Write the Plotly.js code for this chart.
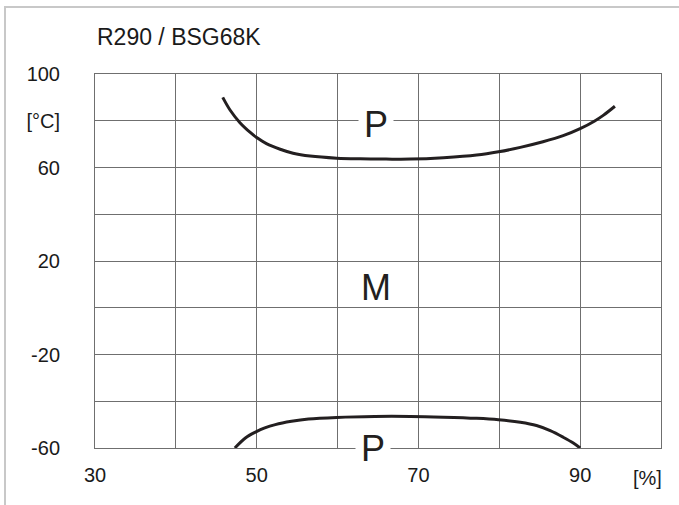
<!DOCTYPE html>
<html>
<head>
<meta charset="utf-8">
<script src="https://cdn.plot.ly/plotly-3.0.1.min.js"></script>
<style>
  html, body { margin: 0; padding: 0; background: #ffffff; }
  #frame { position: absolute; left: 4px; top: 6px; width: 700px; height: 520px;
           border-left: 2px solid #c8c8c8; border-top: 2px solid #c8c8c8; }
  #chart { position: absolute; left: 0; top: 0; width: 679px; height: 505px; }
</style>
</head>
<body>
<div id="frame"></div>
<div id="chart"></div>
<script>
// Upper limit curve (P)
const upperX = [45.8, 46.7, 47.9, 49.2, 50.0, 51.2, 52.9, 54.5, 56.6, 59.9, 62.8, 66.0, 69.0, 73.1, 77.2, 79.9, 82.6, 85.4, 87.9, 90.0, 91.8, 92.9, 94.3];
const upperY = [90.0, 84.6, 79.3, 75.0, 72.8, 70.2, 67.8, 66.1, 64.9, 64.0, 63.7, 63.6, 63.6, 64.2, 65.3, 66.7, 68.6, 71.0, 73.6, 76.6, 79.9, 82.4, 86.2];
// Lower limit curve (P)
const lowerX = [47.3, 48.6, 49.9, 51.0, 52.3, 54.3, 56.4, 59.9, 64.6, 69.0, 73.1, 77.2, 79.9, 82.6, 84.6, 86.3, 87.9, 89.2, 90.0];
const lowerY = [-60.0, -55.7, -53.1, -51.4, -50.0, -48.6, -47.6, -46.9, -46.5, -46.5, -46.8, -47.3, -47.9, -49.0, -50.4, -52.6, -55.4, -58.0, -60.0];

const xTickVals = [30, 40, 50, 60, 70, 80, 90, 100];
const xTickText = ['30', '', '50', '', '70', '', '90', ''];
const yTickVals = [-60, -40, -20, 0, 20, 40, 60, 80, 100];
const yTickText = ['-60', '', '-20', '', '20', '', '60', '[°C]', '100'];

const titleText = 'R290 / BSG68K';
const xUnit = '[%]';

const lineStyle = { color: '#231f20', width: 3, shape: 'spline', smoothing: 1 };
const gridColor = '#6f6f6f';
const font = 'Liberation Sans, Arial, sans-serif';

const traces = [
  { x: upperX, y: upperY, mode: 'lines', line: lineStyle, hoverinfo: 'skip', cliponaxis: false },
  { x: lowerX, y: lowerY, mode: 'lines', line: lineStyle, hoverinfo: 'skip', cliponaxis: false }
];

const layout = {
  width: 679, height: 505,
  margin: { l: 95, r: 18, t: 74, b: 57 },
  paper_bgcolor: 'rgba(0,0,0,0)',
  plot_bgcolor: '#ffffff',
  showlegend: false,
  font: { family: font, size: 20, color: '#1a1a1a' },
  title: { text: titleText, x: 97 / 679, xanchor: 'left', y: 1 - 37 / 505, yanchor: 'middle',
           font: { family: font, size: 23, color: '#1a1a1a' } },
  xaxis: {
    range: [30, 100], tickmode: 'array', tickvals: xTickVals, ticktext: xTickText,
    showgrid: true, gridcolor: gridColor, gridwidth: 1, zeroline: false,
    showline: true, linecolor: gridColor, linewidth: 1, mirror: true,
    ticks: '', ticklabelstandoff: 9, tickfont: { family: font, size: 20, color: '#1a1a1a' }
  },
  yaxis: {
    range: [-60, 100], tickmode: 'array', tickvals: yTickVals, ticktext: yTickText,
    showgrid: true, gridcolor: gridColor, gridwidth: 1, zeroline: false,
    showline: true, linecolor: gridColor, linewidth: 1, mirror: true,
    ticks: '', ticklabelstandoff: 30, tickfont: { family: font, size: 20, color: '#1a1a1a' }
  },
  annotations: [
    { x: 64.75, y: 78.3, xref: 'x', yref: 'y', text: 'P', showarrow: false,
      font: { family: font, size: 36, color: '#231f20' }, bgcolor: '#ffffff', borderpad: 5 },
    { x: 64.75, y: 8.6, xref: 'x', yref: 'y', text: 'M', showarrow: false,
      font: { family: font, size: 36, color: '#231f20' } },
    { x: 64.4, y: 0, xref: 'x', yref: 'paper', yanchor: 'middle', text: 'P', showarrow: false,
      font: { family: font, size: 36, color: '#231f20' }, bgcolor: '#ffffff', borderpad: 5 },
    { x: 98.3, y: -30 / 374, xref: 'x', yref: 'paper', text: xUnit, showarrow: false,
      yanchor: 'middle', font: { family: font, size: 20, color: '#1a1a1a' } }
  ]
};

Plotly.newPlot('chart', traces, layout, { staticPlot: true, displayModeBar: false });
</script>
</body>
</html>
